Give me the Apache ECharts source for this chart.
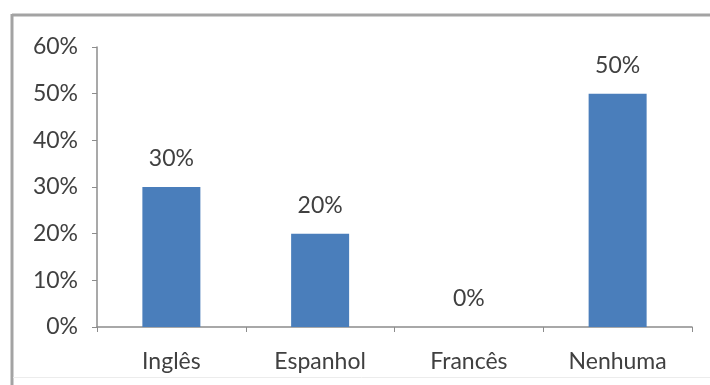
<!DOCTYPE html>
<html>
<head>
<meta charset="utf-8">
<script src="https://cdn.jsdelivr.net/npm/echarts@6/dist/echarts.min.js"></script>
<style>
  html, body { margin: 0; padding: 0; background: #fff; }
  #chart { width: 710px; height: 385px; }
</style>
</head>
<body>
<div id="chart"></div>
<script>
// Idiomas falados (percentual)
var categories = ['Inglês', 'Espanhol', 'Francês', 'Nenhuma'];
var values = [30, 20, 0, 50];
var yTicks = [0, 10, 20, 30, 40, 50, 60];

var textColor = '#404040';
var fontFamily = 'Lato, "Open Sans", sans-serif';
var fontSize = 23;

var chart = echarts.init(document.getElementById('chart'), null, { renderer: 'canvas' });
chart.setOption({
  animation: false,
  backgroundColor: '#fff',
  graphic: [
    { type: 'line', shape: { x1: 12, y1: 15, x2: 710, y2: 15 }, style: { stroke: '#a3a3a3', lineWidth: 3 } },
    { type: 'line', shape: { x1: 12, y1: 14, x2: 12, y2: 385 }, style: { stroke: '#a3a3a3', lineWidth: 3 } },
    { type: 'line', shape: { x1: 13, y1: 377.5, x2: 710, y2: 377.5 }, style: { stroke: '#ececec', lineWidth: 1 } }
  ],
  grid: { left: 97, right: 18, top: 47, bottom: 58 },
  xAxis: {
    type: 'category',
    data: categories,
    boundaryGap: true,
    axisLine: { lineStyle: { color: '#8c8c8c', width: 1.5 } },
    axisTick: { show: true, length: 5, lineStyle: { color: '#8c8c8c' } },
    axisLabel: { color: textColor, fontSize: fontSize, fontFamily: fontFamily, margin: 23 }
  },
  yAxis: {
    type: 'value',
    min: yTicks[0],
    max: yTicks[yTicks.length - 1],
    interval: 10,
    splitLine: { show: false },
    axisLine: { show: true, lineStyle: { color: '#8c8c8c', width: 1.5 } },
    axisTick: { show: true, length: 5, lineStyle: { color: '#8c8c8c' } },
    axisLabel: { color: textColor, fontSize: fontSize, fontFamily: fontFamily, margin: 19, formatter: '{value}%' }
  },
  series: [{
    type: 'bar',
    data: values,
    barWidth: 58,
    itemStyle: { color: '#4a7ebb' },
    label: {
      show: true,
      position: 'top',
      distance: 17,
      color: textColor,
      fontSize: fontSize,
      fontFamily: fontFamily,
      formatter: '{c}%'
    }
  }]
});
</script>
</body>
</html>
